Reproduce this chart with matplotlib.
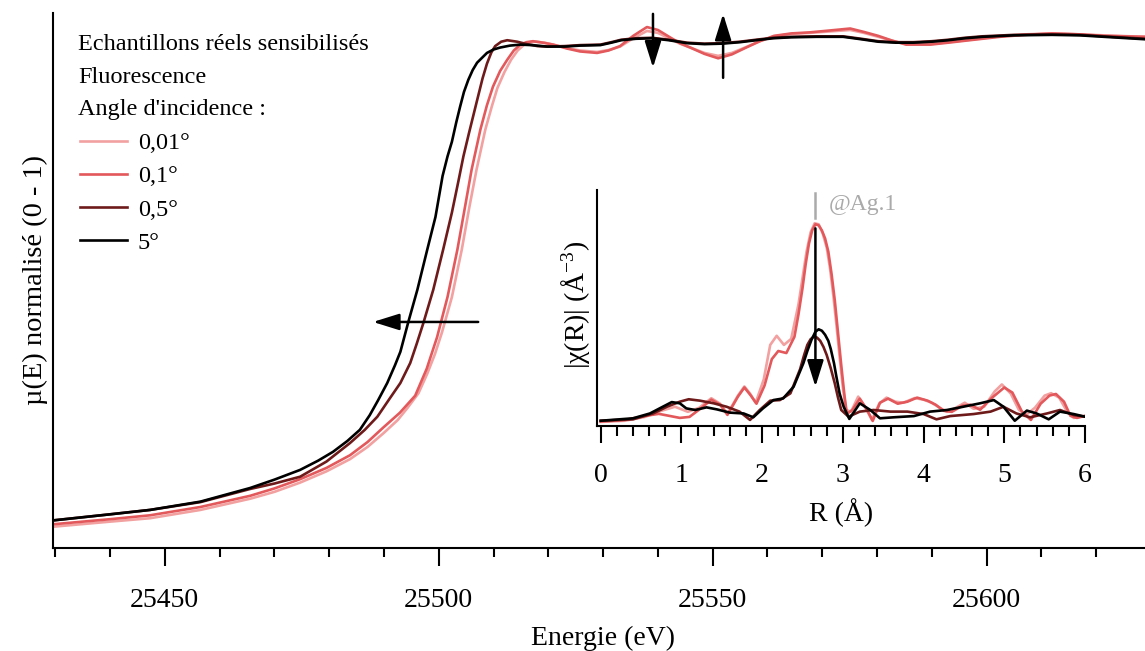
import numpy as np
import matplotlib
matplotlib.use('Agg')
from matplotlib import pyplot as plt
from matplotlib.ticker import MultipleLocator, FormatStrFormatter

plt.rcParams.update({
    'font.family': ['Liberation Serif', 'DejaVu Serif'],
    'mathtext.fontset': 'custom',
    'mathtext.rm': 'Liberation Serif',
    'mathtext.it': 'Liberation Serif:italic',
})

# XANES, normalised mu(E), one pair of arrays per incidence angle
E_001 = [25430.0, 25440.0, 25447.3, 25456.5, 25465.6, 25470.0, 25474.7, 25479.5, 25483.8, 25487.0,
         25489.9, 25492.5, 25494.3, 25496.3, 25497.9, 25499.3, 25500.6, 25502.4, 25504.2, 25505.6,
         25506.9, 25508.5, 25509.7, 25510.7, 25512.0, 25513.2, 25514.4, 25515.5, 25516.7, 25517.8,
         25519.3, 25520.9, 25523.4, 25525.8, 25528.9, 25531.0, 25533.1, 25535.5, 25538.0, 25540.0,
         25542.2, 25544.0, 25545.9, 25548.5, 25551.0, 25553.5, 25556.1, 25558.6, 25561.2, 25564.4,
         25567.6, 25571.4, 25575.1, 25577.6, 25580.2, 25582.8, 25585.3, 25589.7, 25593.0, 25596.1,
         25602.4, 25607.0, 25611.9, 25617.0, 25621.4, 25628.9]
mu_001 = [0.007, 0.017, 0.024, 0.041, 0.064, 0.078, 0.097, 0.120, 0.145, 0.170,
          0.198, 0.225, 0.250, 0.280, 0.320, 0.360, 0.405, 0.477, 0.574, 0.662,
          0.738, 0.820, 0.868, 0.905, 0.938, 0.963, 0.982, 0.993, 0.999, 1.000,
          0.998, 0.994, 0.987, 0.982, 0.979, 0.983, 0.990, 1.007, 1.022, 1.018,
          1.006, 0.996, 0.988, 0.977, 0.971, 0.977, 0.989, 1.001, 1.011, 1.016,
          1.018, 1.021, 1.024, 1.018, 1.010, 1.002, 0.995, 0.995, 0.999, 1.003,
          1.011, 1.015, 1.017, 1.015, 1.013, 1.010]

E_01 = [25430.0, 25440.0, 25447.3, 25456.5, 25465.6, 25470.0, 25474.7, 25479.5, 25483.8, 25487.0,
        25489.9, 25492.9, 25495.7, 25497.8, 25499.7, 25501.6, 25503.4, 25504.8, 25506.0, 25507.6,
        25508.8, 25509.9, 25511.2, 25512.5, 25513.7, 25514.9, 25516.0, 25517.2, 25519.0, 25520.9,
        25523.4, 25525.8, 25528.9, 25531.0, 25533.1, 25535.5, 25538.0, 25540.0, 25542.2, 25544.0,
        25545.9, 25548.5, 25551.0, 25553.5, 25556.1, 25558.6, 25561.2, 25564.4, 25567.6, 25571.4,
        25575.1, 25577.6, 25580.2, 25582.8, 25585.3, 25589.7, 25593.0, 25596.1, 25602.4, 25607.0,
        25611.9, 25617.0, 25621.4, 25628.9]
mu_01 = [0.012, 0.022, 0.030, 0.047, 0.070, 0.085, 0.104, 0.127, 0.153, 0.180,
         0.210, 0.240, 0.275, 0.330, 0.395, 0.477, 0.574, 0.662, 0.738, 0.820,
         0.870, 0.908, 0.940, 0.963, 0.982, 0.994, 0.999, 1.001, 0.998, 0.994,
         0.986, 0.980, 0.977, 0.982, 0.991, 1.012, 1.030, 1.024, 1.009, 0.997,
         0.988, 0.975, 0.966, 0.974, 0.988, 1.001, 1.012, 1.017, 1.019, 1.023,
         1.027, 1.020, 1.012, 1.002, 0.994, 0.994, 0.998, 1.002, 1.010, 1.014,
         1.017, 1.015, 1.012, 1.010]

E_05 = [25430.0, 25440.0, 25447.3, 25456.5, 25465.6, 25470.0, 25474.7, 25479.5, 25483.8, 25486.5,
        25488.8, 25491.1, 25493.0, 25494.8, 25496.0, 25497.2, 25499.0, 25500.8, 25502.4, 25503.6,
        25504.5, 25505.5, 25507.0, 25508.0, 25508.8, 25509.6, 25510.3, 25511.4, 25512.5, 25514.3,
        25516.1, 25518.0, 25519.8, 25523.0, 25525.8, 25529.5, 25531.5, 25533.3, 25536.0, 25538.9,
        25542.0, 25545.3, 25548.5, 25551.7, 25555.0, 25557.9, 25561.0, 25564.3, 25569.0, 25573.8,
        25577.1, 25580.2, 25583.4, 25586.6, 25590.0, 25593.0, 25596.0, 25599.2, 25605.0, 25611.9,
        25617.0, 25621.4, 25628.9]
mu_05 = [0.020, 0.032, 0.041, 0.057, 0.084, 0.095, 0.109, 0.140, 0.178, 0.205,
         0.232, 0.270, 0.301, 0.342, 0.382, 0.424, 0.492, 0.574, 0.650, 0.715,
         0.765, 0.812, 0.880, 0.925, 0.955, 0.978, 0.991, 1.000, 1.003, 1.000,
         0.995, 0.991, 0.990, 0.991, 0.993, 0.994, 0.999, 1.004, 1.007, 1.008,
         1.004, 0.998, 0.996, 0.997, 1.000, 1.004, 1.008, 1.010, 1.011, 1.011,
         1.006, 1.001, 0.999, 0.999, 1.001, 1.004, 1.008, 1.011, 1.014, 1.015,
         1.014, 1.011, 1.006]

E_5 = [25430.0, 25440.0, 25447.3, 25456.5, 25465.6, 25470.0, 25474.7, 25478.0, 25480.7, 25483.3,
       25485.6, 25487.4, 25488.9, 25490.6, 25492.0, 25493.0, 25494.4, 25496.1, 25497.9, 25499.4,
       25500.7, 25501.6, 25502.4, 25503.2, 25503.9, 25504.6, 25505.4, 25506.2, 25507.0, 25508.8,
       25510.0, 25511.2, 25513.0, 25514.9, 25517.0, 25519.8, 25523.0, 25525.8, 25529.5, 25531.5,
       25533.3, 25536.0, 25538.9, 25542.0, 25545.3, 25548.5, 25551.7, 25555.0, 25557.9, 25561.0,
       25564.3, 25569.0, 25573.8, 25577.1, 25580.2, 25583.4, 25586.6, 25590.0, 25593.0, 25596.0,
       25599.2, 25605.0, 25611.9, 25617.0, 25621.4, 25628.9]
mu_5 = [0.020, 0.032, 0.041, 0.058, 0.086, 0.103, 0.123, 0.142, 0.160, 0.182,
        0.205, 0.235, 0.265, 0.301, 0.337, 0.365, 0.424, 0.492, 0.574, 0.641,
        0.725, 0.765, 0.795, 0.835, 0.867, 0.897, 0.922, 0.942, 0.957, 0.977,
        0.984, 0.988, 0.992, 0.994, 0.993, 0.990, 0.990, 0.992, 0.993, 0.998,
        1.003, 1.006, 1.007, 1.003, 0.997, 0.995, 0.996, 0.999, 1.003, 1.007,
        1.009, 1.010, 1.010, 1.005, 1.000, 0.998, 0.998, 1.000, 1.003, 1.007,
        1.010, 1.013, 1.014, 1.013, 1.010, 1.005]

# EXAFS Fourier transform |chi(R)| (inset), arbitrary units
R_001 = [0.00, 0.30, 0.55, 0.75, 0.92, 1.08, 1.22, 1.37, 1.48, 1.57, 1.70, 1.78, 1.85, 1.92, 2.02,
         2.10, 2.18, 2.27, 2.36, 2.45, 2.50, 2.55, 2.60, 2.65, 2.70, 2.75, 2.80, 2.84, 2.88, 2.92,
         2.96, 3.00, 3.04, 3.10, 3.19, 3.28, 3.36, 3.45, 3.54, 3.65, 3.75, 3.89, 4.00, 4.10, 4.20,
         4.29, 4.40, 4.51, 4.62, 4.75, 4.88, 4.97, 5.08, 5.18, 5.27, 5.38, 5.50, 5.58, 5.68, 5.78,
         5.86, 6.00]
chi_001 = [0.020, 0.026, 0.045, 0.075, 0.095, 0.070, 0.090, 0.137, 0.110, 0.060, 0.150, 0.195, 0.160, 0.115, 0.230,
           0.400, 0.445, 0.400, 0.430, 0.600, 0.730, 0.860, 0.955, 1.000, 0.995, 0.950, 0.880, 0.780, 0.650, 0.500,
           0.340, 0.190, 0.080, 0.070, 0.145, 0.090, 0.030, 0.110, 0.140, 0.120, 0.115, 0.138, 0.130, 0.115, 0.090,
           0.070, 0.090, 0.115, 0.085, 0.095, 0.170, 0.205, 0.160, 0.080, 0.055, 0.090, 0.150, 0.162, 0.140, 0.070,
           0.040, 0.050]

R_01 = [0.00, 0.30, 0.55, 0.72, 0.85, 0.98, 1.10, 1.25, 1.37, 1.48, 1.57, 1.70, 1.78, 1.86, 1.93,
        2.03, 2.12, 2.20, 2.30, 2.40, 2.45, 2.50, 2.54, 2.58, 2.62, 2.66, 2.70, 2.74, 2.78, 2.82,
        2.86, 2.90, 2.94, 2.98, 3.02, 3.05, 3.12, 3.21, 3.30, 3.37, 3.46, 3.56, 3.68, 3.80, 3.92,
        4.05, 4.15, 4.25, 4.35, 4.48, 4.58, 4.70, 4.85, 5.00, 5.10, 5.22, 5.33, 5.45, 5.56, 5.64,
        5.74, 5.82, 5.90, 6.00]
chi_01 = [0.022, 0.030, 0.050, 0.060, 0.050, 0.040, 0.045, 0.090, 0.130, 0.105, 0.055, 0.145, 0.190, 0.150, 0.110,
          0.200, 0.330, 0.370, 0.360, 0.440, 0.550, 0.680, 0.800, 0.900, 0.965, 0.995, 0.990, 0.965, 0.925, 0.860,
          0.750, 0.620, 0.460, 0.300, 0.150, 0.060, 0.080, 0.135, 0.080, 0.025, 0.115, 0.135, 0.110, 0.120, 0.140,
          0.125, 0.105, 0.075, 0.070, 0.100, 0.105, 0.080, 0.140, 0.190, 0.165, 0.070, 0.030, 0.110, 0.150, 0.158,
          0.120, 0.050, 0.040, 0.050]

R_05 = [0.00, 0.40, 0.65, 0.82, 0.98, 1.09, 1.23, 1.40, 1.56, 1.72, 1.85, 1.97, 2.10, 2.22, 2.35,
        2.47, 2.52, 2.56, 2.60, 2.64, 2.68, 2.72, 2.76, 2.80, 2.85, 2.90, 2.94, 2.98, 3.07, 3.21,
        3.38, 3.59, 3.80, 4.00, 4.16, 4.33, 4.62, 4.83, 4.99, 5.15, 5.32, 5.53, 5.69, 5.86, 6.00]
chi_05 = [0.026, 0.033, 0.062, 0.095, 0.120, 0.132, 0.125, 0.112, 0.095, 0.071, 0.030, 0.079, 0.125, 0.128, 0.161,
          0.280, 0.350, 0.400, 0.428, 0.441, 0.436, 0.420, 0.390, 0.350, 0.285, 0.210, 0.140, 0.079, 0.046, 0.071,
          0.079, 0.071, 0.071, 0.059, 0.033, 0.049, 0.059, 0.071, 0.095, 0.062, 0.043, 0.062, 0.079, 0.054, 0.046]

R_5 = [0.00, 0.40, 0.61, 0.73, 0.88, 0.98, 1.06, 1.17, 1.31, 1.44, 1.60, 1.77, 1.89, 2.01, 2.14,
       2.26, 2.39, 2.51, 2.56, 2.61, 2.66, 2.70, 2.74, 2.78, 2.82, 2.85, 2.89, 2.92, 2.96, 3.01,
       3.08, 3.21, 3.34, 3.46, 3.63, 3.88, 4.08, 4.29, 4.49, 4.70, 4.87, 4.99, 5.13, 5.28, 5.40,
       5.55, 5.69, 5.86, 6.00]
chi_5 = [0.026, 0.038, 0.062, 0.087, 0.118, 0.112, 0.087, 0.079, 0.092, 0.082, 0.066, 0.062, 0.043, 0.087, 0.128,
         0.136, 0.194, 0.309, 0.370, 0.424, 0.465, 0.477, 0.470, 0.450, 0.420, 0.380, 0.310, 0.243, 0.160, 0.095,
         0.035, 0.112, 0.079, 0.038, 0.043, 0.049, 0.071, 0.079, 0.095, 0.112, 0.128, 0.095, 0.026, 0.076, 0.062,
         0.033, 0.071, 0.059, 0.046]

labels = ['0,01°', '0,1°', '0,5°', '5°']
colors = ['#f2a0a0', '#e2585b', '#6e1a1a', '#000000']
header = ['Echantillons réels sensibilisés', 'Fluorescence', "Angle d'incidence :"]

fig = plt.figure(figsize=(11.45, 6.51), dpi=100)
ax = fig.add_axes([0.0463, 0.1582, 0.9537, 0.822])

# main XANES curves
curves = [(E_001, mu_001), (E_01, mu_01), (E_05, mu_05), (E_5, mu_5)]
lines = []
for (x, y), c, lab in zip(curves, colors, labels):
    l, = ax.plot(x, y, color=c, lw=1.9, label=lab)
    lines.append(l)

ax.set_xlim(25429.6, 25628.9)
ax.set_ylim(-0.037, 1.059)
for s in ['top', 'right']:
    ax.spines[s].set_visible(False)
for s in ['left', 'bottom']:
    ax.spines[s].set_linewidth(1.5)
ax.set_yticks([])
ax.xaxis.set_major_locator(MultipleLocator(50))
ax.xaxis.set_minor_locator(MultipleLocator(10))
ax.xaxis.set_major_formatter(FormatStrFormatter('%d'))
ax.tick_params(axis='x', which='major', length=13, width=1.5, pad=15.5, labelsize=20)
ax.tick_params(axis='x', which='minor', length=6.5, width=1.5)
ax.set_xlabel('Energie (eV)', fontsize=20)
ax.xaxis.set_label_coords(0.504, -0.145)
ax.set_ylabel('µ(E) normalisé (0 - 1)', fontsize=20.5)
ax.yaxis.set_label_coords(-0.005, 0.50)

# arrows showing the trend with the incidence angle
arr = dict(arrowstyle='-|>,head_length=0.8,head_width=0.25', color='k', lw=1.8,
           mutation_scale=20, shrinkA=0, shrinkB=0)
ax.annotate('', xy=(25488.0, 0.426), xytext=(25507.2, 0.426), arrowprops=arr)
ax.annotate('', xy=(25539.1, 0.947), xytext=(25539.1, 1.057), arrowprops=arr, annotation_clip=False)
ax.annotate('', xy=(25551.9, 1.057), xytext=(25551.9, 0.926), arrowprops=arr, annotation_clip=False)

# header and legend
for i, t in enumerate(header):
    ax.text(0.0229, 0.941 - i * 0.0612, t, transform=ax.transAxes, fontsize=17.5, va='center')
ax.legend(handles=lines, loc='upper left', bbox_to_anchor=(0.0247, 0.777), frameon=False,
          fontsize=17.5, handlelength=1.93, handletextpad=0.45, labelspacing=0.46,
          borderpad=0, borderaxespad=0)

# inset: Fourier transform
ax2 = fig.add_axes([0.5214, 0.3456, 0.4262, 0.3625])
ax2.patch.set_alpha(0)
ffts = [(R_001, chi_001), (R_01, chi_01), (R_05, chi_05), (R_5, chi_5)]
for (x, y), c in zip(ffts, colors):
    ax2.plot(x, y, color=c, lw=1.9)
ax2.set_xlim(-0.046, 6.0)
ax2.set_ylim(0, 1.164)
for s in ['top', 'right']:
    ax2.spines[s].set_visible(False)
for s in ['left', 'bottom']:
    ax2.spines[s].set_linewidth(1.5)
ax2.set_yticks([])
ax2.xaxis.set_major_locator(MultipleLocator(1))
ax2.xaxis.set_minor_locator(MultipleLocator(0.2))
ax2.tick_params(axis='x', which='major', length=12.5, width=1.5, pad=14, labelsize=20)
ax2.tick_params(axis='x', which='minor', length=7.5, width=1.5)
ax2.set_xlabel('R (Å)', fontsize=20)
ax2.xaxis.set_label_coords(0.5, -0.305)
ax2.set_ylabel('|χ(R)| (Å$^{-3}$)', fontsize=20)
ax2.yaxis.set_label_coords(-0.01, 0.513)

# Ag-Ag first shell marker and trend arrow
ax2.plot([2.65, 2.65], [1.025, 1.148], color='#aaaaaa', lw=1.8)
ax2.text(2.83, 1.066, '@Ag.1', color='#aaaaaa', fontsize=17, va='baseline')
ax2.annotate('', xy=(2.66, 0.194), xytext=(2.66, 0.975), arrowprops=arr)

fig.savefig('out.png', dpi=100)
